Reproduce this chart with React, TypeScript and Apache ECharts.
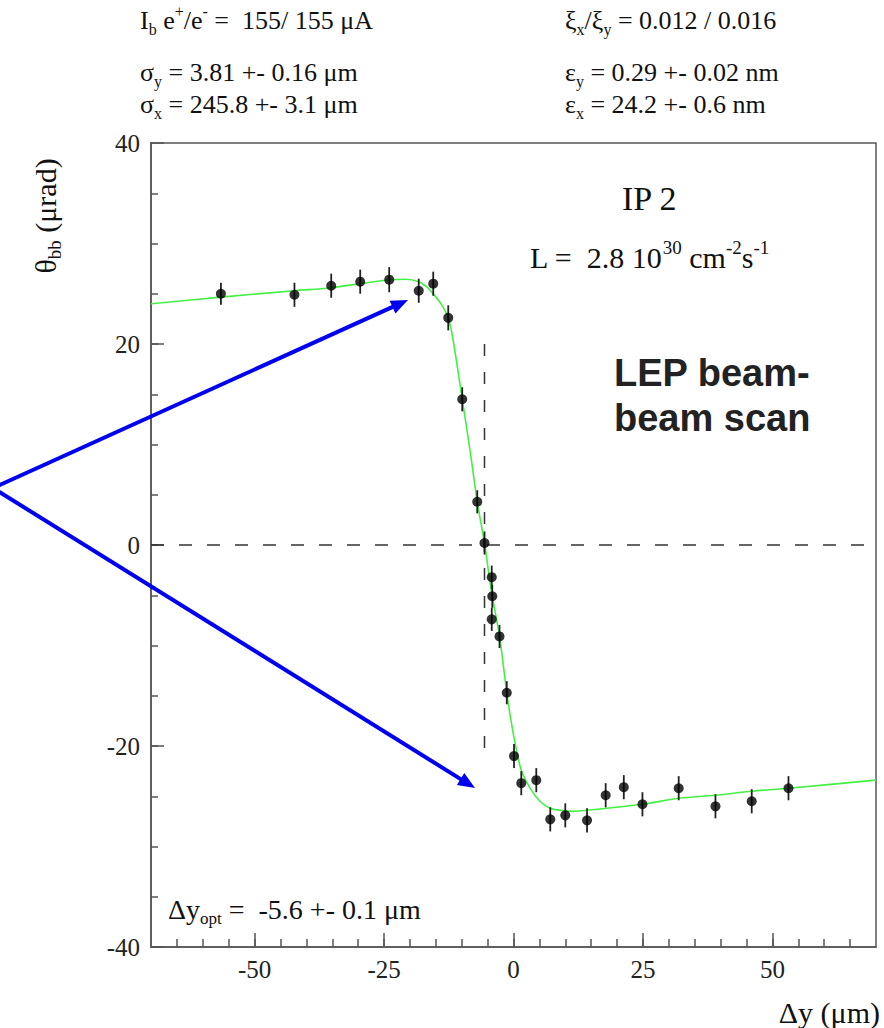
import React, { useEffect, useRef } from 'react';
import * as echarts from 'echarts';

// ---- data ----
const scanX = [-56.5, -42.3, -35.2, -29.6, -24.0, -18.3, -15.5, -12.6, -9.9, -7.0, -5.6, -4.2, -4.1, -4.2, -2.7, -1.3, 0.1, 1.5, 4.4, 7.1, 10.0, 14.2, 17.8, 21.3, 24.9, 31.9, 39.0, 46.0, 53.1];
const scanY = [25.0, 24.9, 25.8, 26.2, 26.4, 25.3, 26.0, 22.6, 14.5, 4.3, 0.2, -3.2, -5.1, -7.4, -9.1, -14.7, -21.0, -23.7, -23.4, -27.3, -26.9, -27.4, -24.9, -24.1, -25.8, -24.2, -26.0, -25.5, -24.2];
const scanErr = [1.1, 1.2, 1.2, 1.2, 1.25, 1.2, 1.2, 1.25, 1.2, 1.15, 1.15, 1.15, 1.15, 1.15, 1.15, 1.15, 1.2, 1.2, 1.2, 1.2, 1.2, 1.2, 1.2, 1.2, 1.2, 1.2, 1.2, 1.2, 1.2];

const fitX = [-70, -56.5, -42.3, -35.2, -29.6, -24.0, -20.8, -18.3, -16.8, -15.5, -14.0, -12.6, -11.6, -9.9, -8.4, -7.0, -5.6, -4.3, -2.7, -1.3, -0.5, 0.3, 1.5, 3.2, 5.1, 7.1, 10.0, 11.5, 14.2, 24.9, 31.9, 39.0, 46.0, 53.1, 70];
const fitY = [24.0, 24.66, 25.3, 25.6, 26.0, 26.4, 26.45, 26.2, 25.7, 25.0, 24.0, 22.6, 20.2, 14.5, 9.45, 4.3, 0.2, -4.5, -9.1, -14.7, -17.4, -19.7, -22.4, -24.2, -25.5, -26.2, -26.45, -26.5, -26.4, -25.8, -25.2, -24.9, -24.5, -24.2, -23.4];

const zeroLineX = [-70, 68];
const zeroLineY = [0, 0];
const optLineX = [-5.6, -5.6];
const optLineY = [20, -20.4];

const xMinorTicks = [-65, -60, -55, -50, -45, -40, -35, -30, -25, -20, -15, -10, -5, 0, 5, 10, 15, 20, 25, 30, 35, 40, 45, 50, 55, 60, 65];
const xMajorTicks = [-50, -25, 0, 25, 50];
const yMinorTicks = [-35, -30, -25, -20, -15, -10, -5, 0, 5, 10, 15, 20, 25, 30, 35];
const yMajorTicks = [-40, -20, 0, 20, 40];

const SERIF = "'Liberation Serif', 'Times New Roman', serif";
const SANS = "'Liberation Sans', Arial, sans-serif";

function rich(size: number) {
  const small = Math.round(size * 0.62);
  return {
    m: { fontFamily: SERIF, fontSize: size, lineHeight: size + 8, fill: '#111' },
    s: { fontFamily: SERIF, fontSize: small, lineHeight: small, verticalAlign: 'bottom', fill: '#111' },
    u: { fontFamily: SERIF, fontSize: small, lineHeight: small, verticalAlign: 'top', fill: '#111' },
  };
}

function txt(text: string, x: number, y: number, size: number, extra: any = {}) {
  return {
    type: 'text',
    x,
    y,
    z: 20,
    ...extra,
    style: { text, rich: rich(size), align: extra.align || 'left', verticalAlign: 'middle' },
  };
}

function arrow(x0: number, y0: number, x1: number, y1: number) {
  const dx = x1 - x0;
  const dy = y1 - y0;
  const len = Math.sqrt(dx * dx + dy * dy);
  const ux = dx / len;
  const uy = dy / len;
  const hl = 17;
  const hw = 7;
  const bx = x1 - ux * hl;
  const by = y1 - uy * hl;
  return [
    { type: 'line', z: 30, shape: { x1: x0, y1: y0, x2: bx + ux * 2, y2: by + uy * 2 }, style: { stroke: '#0000f0', lineWidth: 4 } },
    {
      type: 'polygon',
      z: 30,
      shape: { points: [[x1, y1], [bx - uy * hw, by + ux * hw], [bx + uy * hw, by - ux * hw]] },
      style: { fill: '#0000f0' },
    },
  ];
}

export default function App() {
  const ref = useRef<HTMLDivElement>(null);
  useEffect(() => {
    if (!ref.current) return;
    const chart = echarts.init(ref.current, undefined, { renderer: 'svg' });
    const axisColor = '#555';
    const labelStyle = { fontFamily: SERIF, fontSize: 25, color: '#222' };
    chart.setOption({
      animation: false,
      backgroundColor: '#fff',
      grid: { left: 151, right: 8, top: 143, bottom: 81, show: true, borderColor: axisColor, borderWidth: 1.5, backgroundColor: 'transparent' },
      xAxis: [
        {
          type: 'value', min: -70, max: 70, interval: 5,
          axisLine: { show: true, onZero: false, lineStyle: { color: axisColor, width: 1.5 } },
          axisTick: { show: true, inside: true, length: 8, customValues: xMinorTicks, lineStyle: { color: axisColor, width: 1.5 } },
          axisLabel: { ...labelStyle, margin: 10, customValues: xMajorTicks },
          splitLine: { show: false },
        },
        {
          type: 'value', min: -70, max: 70, interval: 5, position: 'bottom', gridIndex: 0,
          axisLine: { show: false, onZero: false },
          axisTick: { show: true, inside: true, length: 14, customValues: xMajorTicks, lineStyle: { color: axisColor, width: 1.5 } },
          axisLabel: { show: false },
          splitLine: { show: false },
        },
      ],
      yAxis: [
        {
          type: 'value', min: -40, max: 40, interval: 5,
          axisLine: { show: true, onZero: false, lineStyle: { color: axisColor, width: 1.5 } },
          axisTick: { show: true, inside: true, length: 7, customValues: yMinorTicks, lineStyle: { color: axisColor, width: 1.5 } },
          axisLabel: { ...labelStyle, margin: 11, customValues: yMajorTicks },
          splitLine: { show: false },
        },
        {
          type: 'value', min: -40, max: 40, interval: 5, position: 'left', gridIndex: 0,
          axisLine: { show: false, onZero: false },
          axisTick: { show: true, inside: true, length: 13, customValues: yMajorTicks, lineStyle: { color: axisColor, width: 1.5 } },
          axisLabel: { show: false },
          splitLine: { show: false },
        },
      ],
      series: [
        {
          type: 'line', data: zeroLineX.map((x, i) => [x, zeroLineY[i]]), showSymbol: false, silent: true,
          lineStyle: { color: '#333', width: 1.5, type: [13, 15] }, z: 1,
        },
        {
          type: 'line', data: optLineX.map((x, i) => [x, optLineY[i]]), showSymbol: false, silent: true,
          lineStyle: { color: '#333', width: 1.5, type: [12, 16] }, z: 1,
        },
        {
          type: 'line', data: fitX.map((x, i) => [x, fitY[i]]), showSymbol: false, smooth: 0.35,
          lineStyle: { color: '#44f044', width: 1.6 }, z: 2,
        },
        {
          type: 'custom',
          data: scanX.map((x, i) => [x, scanY[i], scanErr[i]]),
          encode: { x: 0, y: 1 },
          z: 3,
          renderItem: (_p: any, api: any) => {
            const x = api.value(0);
            const y = api.value(1);
            const e = api.value(2);
            const a = api.coord([x, y - e]);
            const b = api.coord([x, y + e]);
            return { type: 'line', shape: { x1: a[0], y1: a[1], x2: b[0], y2: b[1] }, style: { stroke: '#222', lineWidth: 1.8 } };
          },
        },
        {
          type: 'scatter', data: scanX.map((x, i) => [x, scanY[i]]), symbolSize: 10,
          itemStyle: { color: '#000' }, z: 4,
        },
      ],
      graphic: [
        txt('{m|I}{s|b}{m| e}{u|+}{m|/e}{u|-}{m| =  155/ 155 μA}', 140, 20, 26),
        txt('{m|σ}{s|y}{m| = 3.81 +- 0.16 μm}', 140, 72, 26),
        txt('{m|σ}{s|x}{m| = 245.8 +- 3.1 μm}', 140, 104, 26),
        txt('{m|ξ}{s|x}{m|/ξ}{s|y}{m| = 0.012 / 0.016}', 565, 20, 26),
        txt('{m|ε}{s|y}{m| = 0.29 +- 0.02 nm}', 565, 72, 26),
        txt('{m|ε}{s|x}{m| = 24.2 +- 0.6 nm}', 565, 104, 26),
        txt('{m|IP 2}', 622, 198, 34),
        txt('{m|L =  2.8 10}{u|30}{m| cm}{u|-2}{m|s}{u|-1}', 530, 257, 30),
        txt('{m|Δy}{s|opt}{m| =  -5.6 +- 0.1 μm}', 168, 909, 28),
        txt('{m|θ}{s|bb}{m| (μrad)}', 45, 216, 30, { rotation: Math.PI / 2, align: 'center' }),
        txt('{m|Δy (μm)}', 880, 1012, 30, { align: 'right' }),
        {
          type: 'text', x: 614, y: 395, z: 20,
          style: {
            text: 'LEP beam-\nbeam scan', fontFamily: SANS, fontSize: 38, fontWeight: 'bold',
            lineHeight: 45, fill: '#222', align: 'left', verticalAlign: 'middle',
          },
        },
        ...arrow(-7, 488, 408, 300),
        ...arrow(-7, 488, 475, 788),
      ],
    });
    return () => chart.dispose();
  }, []);
  return <div ref={ref} style={{ position: 'fixed', left: 0, top: 0, width: 884, height: 1028 }} />;
}
